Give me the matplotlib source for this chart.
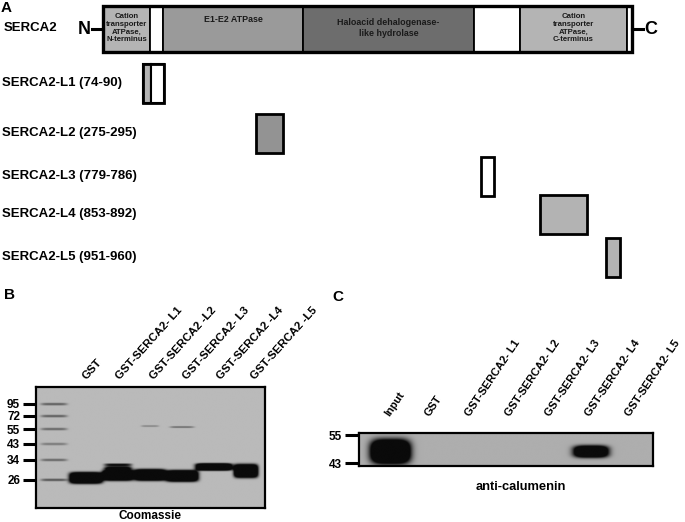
import numpy as np
import matplotlib
matplotlib.use("Agg")
import matplotlib.pyplot as plt
from matplotlib.patches import Rectangle
from matplotlib.transforms import blended_transform_factory

plt.rcParams["font.family"] = ["Liberation Sans", "DejaVu Sans"]
plt.rcParams["font.weight"] = "bold"

# ---- panel A: SERCA2 domain map (schematic units along the figure width)
domain_edges = [103, 150, 163, 303, 474, 520, 627, 632]
domain_colors = ["#b4b4b4", "white", "#9a9a9a", "#6d6d6d", "white", "#b4b4b4", "white"]
domain_labels = ["Cation\ntransporter\nATPase,\nN-terminus", "", "E1-E2 ATPase",
                 "Haloacid dehalogenase-\nlike hydrolase", "",
                 "Cation\ntransporter\nATPase,\nC-terminus", ""]
domain_label_y = [28, 0, 20, 28, 0, 28, 0]

frag_names = ["SERCA2-L1 (74-90)", "SERCA2-L2 (275-295)", "SERCA2-L3 (779-786)",
              "SERCA2-L4 (853-892)", "SERCA2-L5 (951-960)"]
frag_start = [143, 256, 481, 540, 606]
frag_end = [164, 283, 494, 587, 620]
frag_split = [151, None, None, None, None]   # L1 spans two domains
frag_colors = ["#b4b4b4", "#939393", "white", "#b3b3b3", "#b3b3b3"]
frag_rows = [83, 133, 176, 214, 257]

# ---- panel B: Coomassie gel
b_lanes = ["GST", "GST-SERCA2- L1", "GST-SERCA2 -L2", "GST-SERCA2- L3",
           "GST-SERCA2 -L4", "GST-SERCA2 -L5"]
ladder_kda = [95, 72, 55, 43, 34, 26]
ladder_mig = [17, 29, 42, 57, 73, 93]
ladder_dark = [0.5, 0.5, 0.45, 0.35, 0.45, 0.55]
# lane (0 = ladder), migration, thickness, width, darkness
b_band_lane = [1, 2, 2, 2, 3, 3, 4, 4, 5, 6]
b_band_mig = [91, 88, 78, 81, 88, 39, 89, 40, 80, 84]
b_band_thick = [11, 11, 3, 3, 11, 1.8, 11, 1.8, 7, 13]
b_band_width = [1.02, 0.95, 0.85, 0.85, 0.98, 0.55, 1.0, 0.75, 1.12, 0.74]
b_band_dark = [2.5, 2.5, 1.0, 1.1, 2.5, 0.3, 2.5, 0.45, 2.5, 2.5]

# ---- panel C: anti-calumenin blot
c_lanes = ["Input", "GST", "GST-SERCA2- L1", "GST-SERCA2- L2", "GST-SERCA2- L3",
           "GST-SERCA2- L4", "GST-SERCA2- L5"]
c_marker_kda = [55, 43]
c_marker_mig = [2, 30]
c_band_lane = [0, 5]
c_band_mig = [19, 19]
c_band_thick = [22, 11]
c_band_width = [0.95, 0.85]
c_band_dark = [3.0, 2.5]

W, H = 685, 522
fig = plt.figure(figsize=(W / 100, H / 100), dpi=100)
ax0 = fig.add_axes([0, 0, 1, 1])
ax0.set_xlim(0, W); ax0.set_ylim(H, 0); ax0.axis("off")


def fax(x0, y0, x1, y1):
    return fig.add_axes([x0 / W, 1 - y1 / H, (x1 - x0) / W, (y1 - y0) / H])


# panel A
bar_top, bar_bot = 6, 52
bar_mid = (bar_top + bar_bot) / 2
for i, c in enumerate(domain_colors):
    x0, x1 = domain_edges[i], domain_edges[i + 1]
    ax0.add_patch(Rectangle((x0, bar_top), x1 - x0, bar_bot - bar_top, fc=c, ec="black", lw=1.3))
    if domain_labels[i]:
        fs = 5.6 if domain_labels[i].startswith("Cation") else 6.4
        ax0.text((x0 + x1) / 2, domain_label_y[i], domain_labels[i], ha="center", va="center",
                 fontsize=fs, color="#1a1a1a", linespacing=1.15)
ax0.add_patch(Rectangle((domain_edges[0], bar_top), domain_edges[-1] - domain_edges[0],
                        bar_bot - bar_top, fc="none", ec="black", lw=2.4))
ax0.plot([92, domain_edges[0]], [bar_mid, bar_mid], color="black", lw=2.2)
ax0.plot([domain_edges[-1], 643], [bar_mid, bar_mid], color="black", lw=2.2)
ax0.text(91, bar_mid + 1, "N", ha="right", va="center", fontsize=13)
ax0.text(644, bar_mid + 1, "C", ha="left", va="center", fontsize=13)
ax0.text(1, 1, "A", ha="left", va="top", fontsize=11)
ax0.text(4, 28, "SERCA2", ha="left", va="center", fontsize=9.5)

box_h = 39
for name, s, e, sp, c, y in zip(frag_names, frag_start, frag_end, frag_split, frag_colors, frag_rows):
    ax0.text(2, y, name, ha="left", va="center", fontsize=9.5)
    if sp is None:
        ax0.add_patch(Rectangle((s, y - box_h / 2), e - s, box_h, fc=c, ec="black", lw=2.0))
    else:
        ax0.add_patch(Rectangle((s, y - box_h / 2), sp - s, box_h, fc=c, ec="black", lw=1.5))
        ax0.add_patch(Rectangle((sp, y - box_h / 2), e - sp, box_h, fc="white", ec="black", lw=1.5))
        ax0.add_patch(Rectangle((s, y - box_h / 2), e - s, box_h, fc="none", ec="black", lw=2.0))


def draw_gel(ax, xlim, ylim, lanes, migs, thicks, widths, darks, bg, hp=6, vp=4):
    xs = np.linspace(xlim[0], xlim[1], 700)
    ys = np.linspace(ylim[1], ylim[0], 360)
    X, Y = np.meshgrid(xs, ys)
    ink = np.zeros_like(X)
    for l, m, t, w, d in zip(lanes, migs, thicks, widths, darks):
        ink += d * np.exp(-np.abs((X - l) / (w / 2)) ** hp - np.abs((Y - m) / (t / 2)) ** vp)
    img = bg - (bg - 0.04) * np.clip(ink, 0, 1)
    ax.imshow(img, cmap="gray", vmin=0, vmax=1, aspect="auto", interpolation="bilinear",
              extent=(xlim[0], xlim[1], ylim[0], ylim[1]))
    ax.set_xlim(*xlim); ax.set_ylim(*ylim)
    ax.set_xticks([])
    for sp in ax.spines.values():
        sp.set_linewidth(1.6)


# panel B
axb = fax(36, 387, 265, 508)
b_xlim = (-0.56, 6.59)
lanes_all = [0] * len(ladder_mig) + b_band_lane
draw_gel(axb, b_xlim, (121, 0), lanes_all, ladder_mig + b_band_mig,
         [2.6] * len(ladder_mig) + b_band_thick, [0.82] * len(ladder_mig) + b_band_width,
         ladder_dark + b_band_dark, bg=0.73)
axb.set_yticks(ladder_mig, [str(k) for k in ladder_kda])
axb.tick_params(axis="y", length=9.5, width=2.2, pad=2, labelsize=8.5)
tb = blended_transform_factory(axb.transData, axb.transAxes)
for i, name in enumerate(b_lanes):
    lx = (i + 1) + 0.06 + 0.05 * i
    axb.text(lx, 1.05, name, transform=tb, rotation=48, rotation_mode="anchor",
             ha="left", va="bottom", fontsize=8.2)
ax0.text(150, 519, "Coomassie", ha="center", va="baseline", fontsize=8.5)
ax0.text(4, 295, "B", ha="left", va="center", fontsize=11)

# panel C
axc = fax(359, 433, 653, 466)
c_xlim = (-0.78, 6.54)
draw_gel(axc, c_xlim, (33, 0), c_band_lane, c_band_mig, c_band_thick, c_band_width,
         c_band_dark, bg=0.68, hp=4, vp=3)
axc.set_yticks(c_marker_mig, [str(k) for k in c_marker_kda])
axc.tick_params(axis="y", length=10, width=2.2, pad=2, labelsize=8.5)
tc = blended_transform_factory(axc.transData, axc.transAxes)
for i, name in enumerate(c_lanes):
    axc.text(i + 0.02, 1.45, name, transform=tc, rotation=56, rotation_mode="anchor",
             ha="left", va="bottom", fontsize=7.9)
axc.text(0.55, -0.45, "anti-calumenin", transform=axc.transAxes, ha="center", va="top", fontsize=9.3)
ax0.text(332, 297, "C", ha="left", va="center", fontsize=11)

fig.savefig("out.png", dpi=100)
